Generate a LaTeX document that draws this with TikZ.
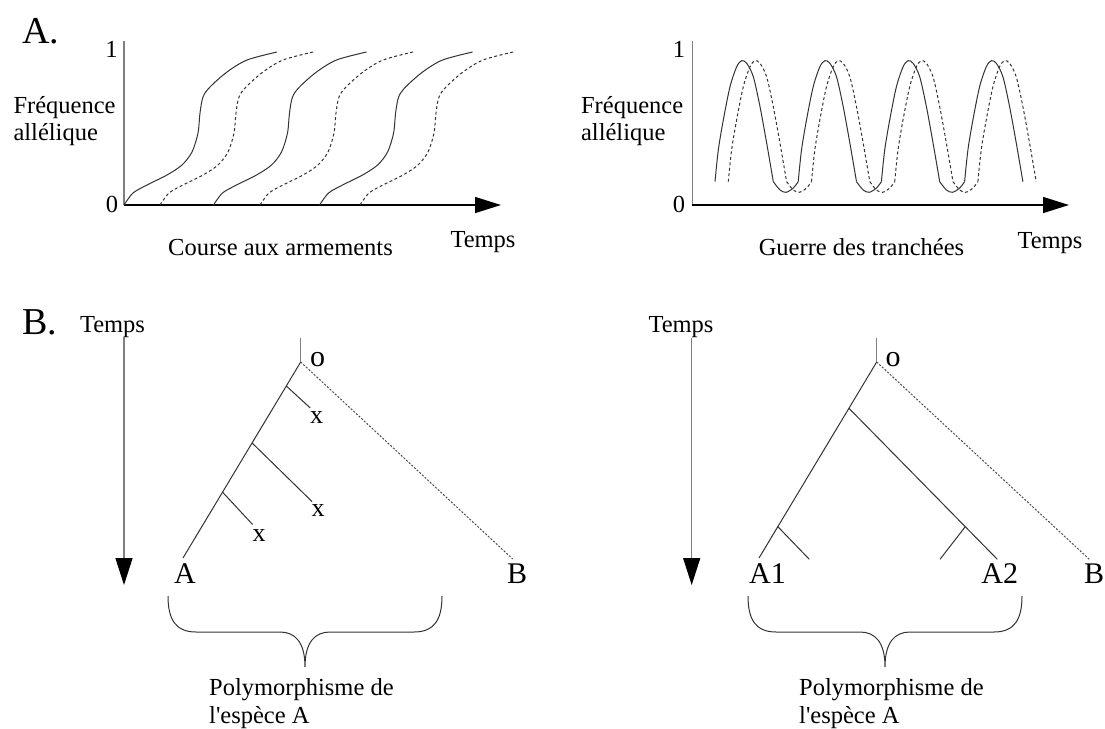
\documentclass[tikz,border=0pt]{standalone}
\usepackage{fontspec}
\setmainfont{Liberation Serif}[Ligatures=TeXOff]
\usetikzlibrary{arrows.meta,calc}
\tikzset{
  lbl/.style={font=\fontsize{24.5}{28}\selectfont, inner sep=0pt},
  big/.style={font=\fontsize{38}{40}\selectfont, inner sep=0pt},
  tlab/.style={font=\fontsize{30}{32}\selectfont, inner sep=0pt},
  xlab/.style={font=\fontsize{26}{28}\selectfont, inner sep=0pt},
  curve/.style={draw=black!80, line width=1pt},
  dcurve/.style={curve, dash pattern=on 3pt off 2.5pt},
  yaxis/.style={draw=black!50, line width=1.4pt},
  xaxis/.style={draw=black, line width=1.4pt, -{Triangle[length=26pt,width=16pt]}},
  tarrow/.style={draw=black!50, line width=1.4pt, -{Triangle[length=27pt,width=17pt,color=black]}},
  stub/.style={draw=black!50, line width=1.4pt},
  branch/.style={draw=black!80, line width=1pt},
  dline/.style={draw=black!70, line width=1pt, dash pattern=on 2pt off 1.6pt},
  brace/.style={draw=black!80, line width=1pt},
}
\newcommand\scurvepts{(0,0) (9,-12) (23,-20) (43,-30) (58,-40) (68,-53) (74,-72) (76,-92) (79,-108) (86,-118) (103,-133) (123,-145) (153,-153)}
\newcommand\bracedraw[3]{%
  \draw[brace] (#1,596) .. controls (#1,620) and ({#1+8},632) .. ({#1+28},632)
    -- ({#2-25},632) .. controls ({#2-10},632) and (#2,642) .. (#2,667)
    .. controls (#2,642) and ({#2+10},632) .. ({#2+25},632)
    -- ({#3-28},632) .. controls ({#3-8},632) and (#3,620) .. (#3,596);}
\begin{document}
\begin{tikzpicture}[x=1pt,y=-1pt]
\fill[white] (0,0) rectangle (1105,728);
\useasboundingbox (0,0) rectangle (1105,728);

% ---------- A. ----------
\node[big, anchor=base west] (Alab) at (22,43) {A.};

% left plot
\coordinate (O1) at (124,205);
\coordinate (Y1) at (124,41);
\coordinate (X1) at (501,205);
\draw[yaxis] (O1) -- (Y1);
\draw[xaxis] (O1) -- (X1);
\node[lbl, anchor=base] (one1) at (111.5,57) {1};
\node[lbl, anchor=base] (zero1) at (112,212) {0};
\node[lbl, anchor=base west] (fa1) at (13.3,113.3) {Fréquence};
\node[lbl, anchor=base west] (fb1) at (13.3,140.7) {allélique};
\node[lbl, anchor=base] (course) at (280.5,255) {Course aux armements};
\node[lbl, anchor=base] (temps1) at (483,247) {Temps};
\foreach \s in {124,213.5,319.6}
  \draw[curve, shift={(\s,205)}] plot[smooth] coordinates {\scurvepts};
\foreach \s in {160,260,360}
  \draw[dcurve, shift={(\s,205)}] plot[smooth] coordinates {\scurvepts};

% right plot
\coordinate (O2) at (692.3,205);
\coordinate (Y2) at (692.3,41);
\coordinate (X2) at (1069,205);
\draw[yaxis] (O2) -- (Y2);
\draw[xaxis] (O2) -- (X2);
\node[lbl, anchor=base] (one2) at (679,57) {1};
\node[lbl, anchor=base] (zero2) at (679,212) {0};
\node[lbl, anchor=base west] (fa2) at (580.9,113.3) {Fréquence};
\node[lbl, anchor=base west] (fb2) at (580.9,140.7) {allélique};
\node[lbl, anchor=base] (guerre) at (861.5,255) {Guerre des tranchées};
\node[lbl, anchor=base] (temps2) at (1050,248) {Temps};
\foreach \st/\sty in {715/curve, 728.3/dcurve}{
  \foreach \k in {0,1,2,3}
    \draw[\sty, shift={({\st+\k*83.2},0)}] plot[smooth] coordinates {(0,181.7) (3.3,150) (8.3,120) (15,86.7) (21.7,66.7) (26.7,60.7) (31.7,63.3) (38.3,76.7) (45,106.7) (51.7,143.3) (58.3,181.7)};
  \foreach \k in {0,1,2}
    \draw[\sty, shift={({\st+\k*83.2},0)}] plot[smooth] coordinates {(58.3,181.7) (65,190) (71,192.3) (78,188.3) (83.2,181.7)};
}

% ---------- B. ----------
\node[big, anchor=base west] (Blab) at (22,334) {B.};

% left tree
\node[lbl, anchor=base] (tempsL) at (112.5,332) {Temps};
\coordinate (TL0) at (124,337);
\coordinate (TL1) at (124,585);
\draw[tarrow] (TL0) -- (TL1);

\coordinate (Ltop) at (300.7,338);
\coordinate (Lroot) at (300.7,362);
\coordinate (LA) at (183,558);
\coordinate (LB) at (512.7,559);
\coordinate (Lb1) at ($(Lroot)!0.1224!(LA)$);
\coordinate (Lb2) at ($(Lroot)!0.413!(LA)$);
\coordinate (Lb3) at ($(Lroot)!0.664!(LA)$);
\coordinate (Le1) at ($(Lb1)+(24,22)$);
\coordinate (Le2) at ($(Lb2)+(60,58.7)$);
\coordinate (Le3) at ($(Lb3)+(30,32.3)$);
\draw[stub] (Ltop) -- (Lroot);
\draw[branch] (Lroot) -- (LA);
\draw[dline] (Lroot) -- (LB);
\draw[branch] (Lb1) -- (Le1);
\draw[branch] (Lb2) -- (Le2);
\draw[branch] (Lb3) -- (Le3);
\node[tlab, anchor=base] (Lo) at (317.5,366) {o};
\node[xlab] (Lx1) at (316.5,418) {x};
\node[xlab] (Lx2) at (318,511) {x};
\node[xlab] (Lx3) at (259,536) {x};
\node[tlab, anchor=base] (LAl) at (185,583) {A};
\node[tlab, anchor=base] (LBl) at (517,583) {B};
\bracedraw{168}{305}{442}
\node[lbl, anchor=base west] (Lp1) at (209,695) {Polymorphisme de};
\node[lbl, anchor=base west] (Lp2) at (209,723) {l'espèce A};

% right tree
\node[lbl, anchor=base] (tempsR) at (681,332) {Temps};
\coordinate (TR0) at (691.7,338);
\coordinate (TR1) at (691.7,585);
\draw[tarrow] (TR0) -- (TR1);

\coordinate (Rtop) at (876.7,338);
\coordinate (Rroot) at (876.7,362);
\coordinate (RA1) at (759,558);
\coordinate (RA2) at (997.3,559.3);
\coordinate (RB) at (1089.3,559.3);
\coordinate (Rc1) at ($(Rroot)!0.236!(RA1)$);
\coordinate (Rc2) at ($(Rroot)!0.840!(RA1)$);
\coordinate (Rc3) at ($(Rc1)!0.784!(RA2)$);
\coordinate (Re2) at (809.3,559.3);
\coordinate (Re3) at (940,559.3);
\draw[stub] (Rtop) -- (Rroot);
\draw[branch] (Rroot) -- (RA1);
\draw[dline] (Rroot) -- (RB);
\draw[branch] (Rc1) -- (RA2);
\draw[branch] (Rc2) -- (Re2);
\draw[branch] (Rc3) -- (Re3);
\node[tlab, anchor=base] (Ro) at (893,366) {o};
\node[tlab, anchor=base] (RA1l) at (767.5,583) {A1};
\node[tlab, anchor=base] (RA2l) at (999.7,583) {A2};
\node[tlab, anchor=base] (RBl) at (1094,583) {B};
\bracedraw{748}{885}{1022}
\node[lbl, anchor=base west] (Rp1) at (799,695) {Polymorphisme de};
\node[lbl, anchor=base west] (Rp2) at (799,723) {l'espèce A};
\end{tikzpicture}
\end{document}
